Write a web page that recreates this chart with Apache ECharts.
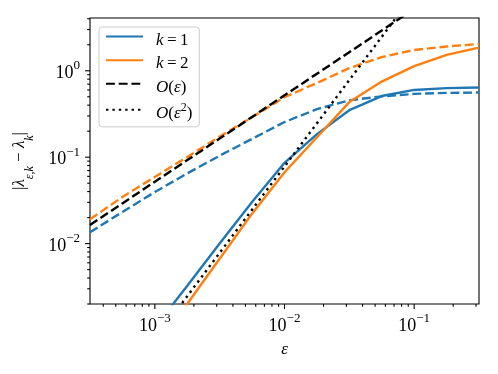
<!DOCTYPE html>
<html>
<head>
<meta charset="utf-8">
<script src="https://cdn.jsdelivr.net/npm/echarts@6/dist/echarts.min.js"></script>
<style>
	html, body { margin: 0; padding: 0; background: #fff; }
	#chart { width: 498px; height: 374px; }
</style>
</head>
<body>
<div id="chart"></div>
<script>
	// epsilon values (log-spaced)
	const eps = [0.000316, 0.000562, 0.001, 0.00178, 0.00316, 0.00562, 0.01, 0.0178, 0.0316, 0.0562, 0.1, 0.178, 0.316];
	// k = 1
	const k1Solid = [0.000107, 0.00034, 0.00107, 0.00325, 0.0100, 0.0303, 0.086, 0.185, 0.35, 0.51, 0.60, 0.63, 0.64];
	const k1Dashed = [0.0135, 0.0232, 0.0395, 0.065, 0.104, 0.163, 0.255, 0.36, 0.455, 0.505, 0.54, 0.555, 0.56];
	// k = 2
	const k2Solid = [0.000056, 0.000185, 0.00061, 0.00201, 0.00668, 0.0222, 0.067, 0.17, 0.434, 0.75, 1.13, 1.53, 1.85];
	const k2Dashed = [0.0191, 0.0346, 0.0591, 0.1007, 0.173, 0.290, 0.495, 0.722, 1.075, 1.44, 1.74, 1.91, 2.04];
	// reference slopes
	const orderEps = [0.0164, 0.0292, 0.052, 0.0925, 0.164, 0.292, 0.52, 0.925, 1.64, 2.92, 5.2, 9.25, 16.4];
	const orderEps2 = [0.000078, 0.000247, 0.00078, 0.00247, 0.0078, 0.0247, 0.078, 0.247, 0.78, 2.47, 7.8, 24.7, 78];

	// axis limits and ticks
	const xMin = 0.00031623, xMax = 0.31623;
	const yMin = 0.002, yMax = 4.08;
	const xMajorTicks = [0.001, 0.01, 0.1];
	const xMinorTicks = [0.0004, 0.0005, 0.0006, 0.0007, 0.0008, 0.0009,
		0.002, 0.003, 0.004, 0.005, 0.006, 0.007, 0.008, 0.009,
		0.02, 0.03, 0.04, 0.05, 0.06, 0.07, 0.08, 0.09, 0.2, 0.3];
	const yMajorTicks = [0.01, 0.1, 1];
	const yMinorTicks = [0.002, 0.003, 0.004, 0.005, 0.006, 0.007, 0.008, 0.009,
		0.02, 0.03, 0.04, 0.05, 0.06, 0.07, 0.08, 0.09,
		0.2, 0.3, 0.4, 0.5, 0.6, 0.7, 0.8, 0.9, 2, 3, 4];

	const blue = '#1f77b4';
	const orange = '#ff7f0e';
	const font = 'Liberation Serif';
	const lw = 2.4;
	const dash = [8.9, 3.8];
	const dot = [2.4, 4];

	const powRich = {
		b: { fontFamily: font, fontSize: 18, color: '#000', lineHeight: 23, verticalAlign: 'bottom' },
		s: { fontFamily: font, fontSize: 13, color: '#000', lineHeight: 13, verticalAlign: 'top' }
	};

	function powLabel(v) {
		const e = Math.log10(v);
		const r = Math.round(e);
		if (Math.abs(e - r) > 1e-6) return '';
		return '{b|10}{s|' + String(r).replace('-', '\u2212') + '}';
	}

	function pairs(ys) {
		return eps.map((x, i) => [x, ys[i]]);
	}

	function lineSeries(name, ys, color, type) {
		return {
			name: name,
			type: 'line',
			data: pairs(ys),
			symbol: 'none',
			smooth: false,
			lineStyle: { color: color, width: lw, type: type, cap: 'butt' },
			itemStyle: { color: color, opacity: 0 }
		};
	}

	function tickSeries(dir, values, len) {
		return {
			type: 'custom',
			silent: true,
			clip: false,
			data: values.map(v => dir === 'x' ? [v, yMin] : [xMin, v]),
			renderItem: function (params, api) {
				const p = api.coord([api.value(0), api.value(1)]);
				const shape = dir === 'x'
					? { x1: p[0], y1: p[1], x2: p[0], y2: p[1] + len }
					: { x1: p[0], y1: p[1], x2: p[0] - len, y2: p[1] };
				return { type: 'line', shape: shape, style: { stroke: '#000', lineWidth: 1.1 } };
			}
		};
	}

	const legendText = {
		'k = 1': '{i|k}{r|\u2009=\u20091}',
		'k = 2': '{i|k}{r|\u2009=\u20092}',
		'O(ε)': '{i|O}{r|(}{i|ε}{r|)}',
		'O(ε²)': '{i|O}{r|(}{i|ε}{s|2}{r|)}'
	};

	const myChart = echarts.init(document.getElementById('chart'));
	let option = {
		animation: false,
		backgroundColor: '#fff',
		grid: {
			left: 90, right: 19, top: 18, bottom: 70,
			show: true,
			borderColor: '#000',
			borderWidth: 1.1,
			backgroundColor: 'transparent'
		},
		legend: {
			data: ['k = 1', 'k = 2', 'O(ε)', 'O(ε²)'],
			orient: 'vertical',
			left: 99,
			top: 27,
			itemWidth: 37,
			itemHeight: 14,
			itemGap: 6,
			padding: [4, 7, 5, 6],
			backgroundColor: 'rgba(255,255,255,0.8)',
			borderColor: '#cccccc',
			borderWidth: 1,
			borderRadius: 3,
			itemStyle: { opacity: 0 },
			formatter: name => legendText[name],
			textStyle: {
				padding: [0, 0, 0, 8],
				rich: {
					i: { fontFamily: font, fontStyle: 'italic', fontSize: 17, color: '#000', lineHeight: 24, verticalAlign: 'bottom' },
					r: { fontFamily: font, fontSize: 17, color: '#000', lineHeight: 24, verticalAlign: 'bottom' },
					s: { fontFamily: font, fontSize: 12, color: '#000', lineHeight: 12, verticalAlign: 'bottom', padding: [0, 0, 8, 0] }
				}
			}
		},
		xAxis: {
			type: 'log',
			logBase: 10,
			min: xMin,
			max: xMax,
			name: 'ε',
			nameLocation: 'middle',
			nameGap: 37,
			nameTextStyle: { fontFamily: font, fontStyle: 'italic', fontSize: 17, color: '#000' },
			axisLine: { show: false },
			axisTick: { show: false },
			splitLine: { show: false },
			minorTick: { show: false },
			axisLabel: { margin: 8, formatter: powLabel, rich: powRich, showMinLabel: true, showMaxLabel: true }
		},
		yAxis: {
			type: 'log',
			logBase: 10,
			min: yMin,
			max: yMax,
			name: '{m||}{i|λ}{si|ε,k}{m| \u2212 }{i|λ}{si|k}{m||}',
			nameLocation: 'middle',
			nameRotate: 90,
			nameGap: 54,
			nameTextStyle: {
				rich: {
					m: { fontFamily: font, fontSize: 17, color: '#000', lineHeight: 25, verticalAlign: 'top' },
					i: { fontFamily: font, fontStyle: 'italic', fontSize: 17, color: '#000', lineHeight: 25, verticalAlign: 'top' },
					si: { fontFamily: font, fontStyle: 'italic', fontSize: 12, color: '#000', lineHeight: 13, verticalAlign: 'bottom' }
				}
			},
			axisLine: { show: false },
			axisTick: { show: false },
			splitLine: { show: false },
			minorTick: { show: false },
			axisLabel: { margin: 10, formatter: powLabel, rich: powRich }
		},
		series: [
			lineSeries('k = 1', k1Solid, blue, 'solid'),
			lineSeries('k = 1 (dashed)', k1Dashed, blue, dash),
			lineSeries('k = 2', k2Solid, orange, 'solid'),
			lineSeries('k = 2 (dashed)', k2Dashed, orange, dash),
			lineSeries('O(ε)', orderEps, '#000', dash),
			lineSeries('O(ε²)', orderEps2, '#000', dot),
			tickSeries('x', xMajorTicks, 4.9),
			tickSeries('x', xMinorTicks, 2.8),
			tickSeries('y', yMajorTicks, 4.9),
			tickSeries('y', yMinorTicks, 2.8)
		]
	};
	myChart.setOption(option);
</script>
</body>
</html>
